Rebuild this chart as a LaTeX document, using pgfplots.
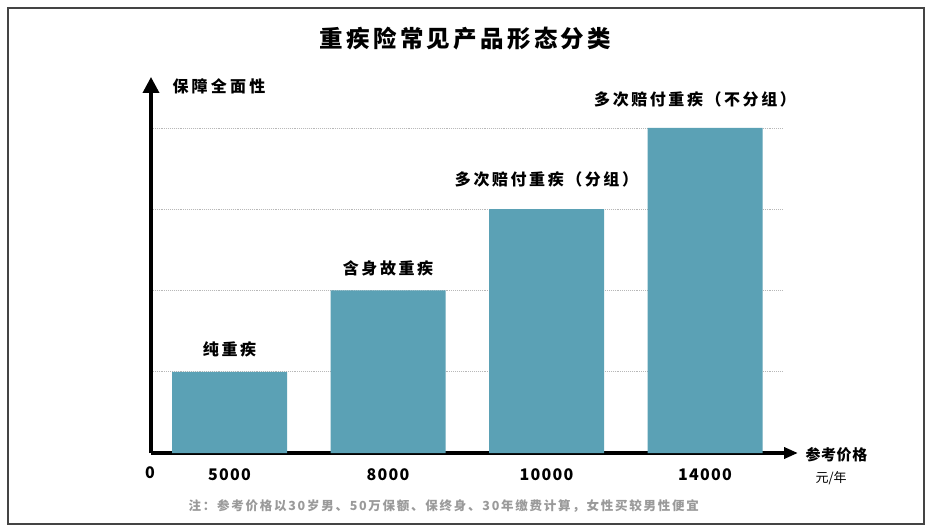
\documentclass[border=0pt]{standalone}
\usepackage{fontspec}
\setmainfont{Noto Sans CJK SC}
\usepackage{pgfplots}
\pgfplotsset{compat=1.18}
\usetikzlibrary{arrows.meta}
\definecolor{barc}{HTML}{5BA1B5}
\definecolor{framec}{HTML}{444444}
\definecolor{notec}{HTML}{9A9A9A}
\newcommand{\fs}[2]{\fontsize{#1}{#1}\bfseries\addfontfeature{LetterSpace=#2}}
\newcommand{\fsn}[2]{\fontsize{#1}{#1}\selectfont\addfontfeature{LetterSpace=#2}}
\begin{document}
\begin{tikzpicture}[x=1pt,y=1pt]
\path[use as bounding box, fill=white] (0,0) rectangle (933,530);
\draw[framec, line width=2pt] (8,6) rectangle (924,522);
\node[font=\fs{23.5}{14}] at (465.5,491) {重疾险常见产品形态分类};
\begin{axis}[
  at={(151pt,77pt)}, anchor=south west,
  x=158.5pt, y=81.25pt,
  xmin=0.5047, xmax=4.492, ymin=0, ymax=4.628,
  enlargelimits=false,
  axis lines=left,
  x axis line style={line width=3.5pt, -{Triangle[length=14pt,width=11pt]}, shorten >=-15pt},
  y axis line style={line width=3.5pt, -{Triangle[length=16pt,width=16pt]}},
  xtick={1,2,3,4}, xticklabels={5000,8000,10000,14000},
  ytick={1,2,3,4}, yticklabels={,,,},
  major tick length=0pt,
  ymajorgrids, grid style={black!28, line width=0.6pt, dash pattern=on 0.7pt off 1.2pt},
  xticklabel style={font=\fs{16}{8}, anchor=center, yshift=-22pt},
  ybar, bar width=0.7256,
  clip=false,
  point meta=explicit symbolic,
  nodes near coords,
  visualization depends on={\thisrow{dy}\as\dy},
  visualization depends on={\thisrow{dx}\as\dx},
  nodes near coords style={font=\fs{16}{16}, anchor=center, yshift=\dy pt, xshift=\dx pt},
]
\addplot[fill=barc, draw=none] table[x=x,y=y,meta=label] {
x y label dy dx
1 1 纯重疾 22 0
2 2 含身故重疾 22.5 0
3 3 多次赔付重疾（分组） 30 0
4 4 多次赔付重疾（不分组） 28.5 -10
};
\end{axis}
\node[font=\fs{16}{0}] at (150,57) {0};
\node[anchor=west, font=\fs{16}{20}] at (169,444) {保障全面性};
\node[anchor=west, font=\fs{15}{4}] at (802,75) {参考价格};
\node[anchor=west, font=\fsn{13}{0}] at (812,52) {元/年};
\node[anchor=west, font=\fs{12.5}{14}, text=notec] at (185,24) {注：参考价格以30岁男、50万保额、保终身、30年缴费计算，女性买较男性便宜};
\end{tikzpicture}
\end{document}
